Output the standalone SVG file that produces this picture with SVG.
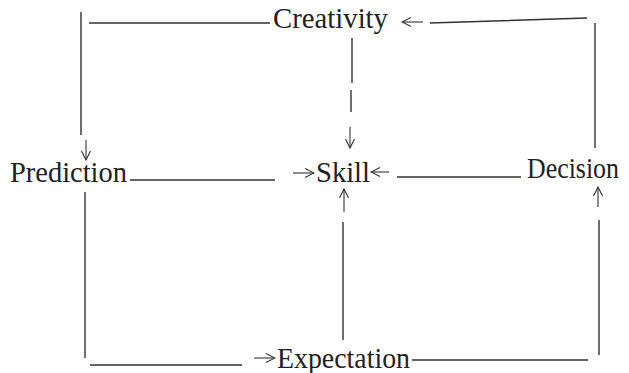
<svg xmlns="http://www.w3.org/2000/svg" width="629" height="373" viewBox="0 0 629 373">
<style>
.lbl{font-family:"Liberation Serif","Times New Roman",serif;font-size:29px;fill:#222}
.ln{fill:none;stroke:#333;stroke-width:1.4}
.ar{fill:none;stroke:#333;stroke-width:1.1}
</style>
<defs>
<marker id="ah" viewBox="0 0 12 12" refX="11" refY="6" markerWidth="12" markerHeight="12" markerUnits="userSpaceOnUse" orient="auto">
<path d="M2,1.5 L11,6 L2,10.5" fill="none" stroke="#333" stroke-width="1.1"/>
</marker>
</defs>
<rect width="629" height="373" fill="#fff"/>
<g id="connectors">
<g id="creativity-prediction">
<path class="ln" d="M270,23 H89 M81,12 V135"/>
<path class="ar" d="M86,140 V160" marker-end="url(#ah)"/>
</g>
<g id="decision-creativity">
<path class="ln" d="M595,148 V23 M587,18 L430,23"/>
<path class="ar" d="M423,22 H402" marker-end="url(#ah)"/>
</g>
<g id="creativity-skill">
<path class="ln" d="M352,38 V83 M351,90 V112"/>
<path class="ar" d="M350,127 V148" marker-end="url(#ah)"/>
</g>
<g id="prediction-skill">
<path class="ln" d="M130,180 H275"/>
<path class="ar" d="M293,173 H314" marker-end="url(#ah)"/>
</g>
<g id="decision-skill">
<path class="ln" d="M521,177 H397"/>
<path class="ar" d="M389,172 H371" marker-end="url(#ah)"/>
</g>
<g id="expectation-skill">
<path class="ln" d="M343,340 V222"/>
<path class="ar" d="M344,212 V189" marker-end="url(#ah)"/>
</g>
<g id="expectation-decision">
<path class="ln" d="M412,360 H588 M599,355 V220"/>
<path class="ar" d="M598,207 V187" marker-end="url(#ah)"/>
</g>
<g id="prediction-expectation">
<path class="ln" d="M85,192 V358 M90,365 H242"/>
<path class="ar" d="M254,358 H275" marker-end="url(#ah)"/>
</g>
</g>
<g id="creativity"><text class="lbl" x="273" y="28" textLength="115" lengthAdjust="spacingAndGlyphs">Creativity</text></g>
<g id="prediction"><text class="lbl" x="10" y="182" textLength="117" lengthAdjust="spacingAndGlyphs">Prediction</text></g>
<g id="skill"><text class="lbl" x="316" y="182" textLength="54" lengthAdjust="spacingAndGlyphs">Skill</text></g>
<g id="decision"><text class="lbl" x="527" y="178" textLength="92" lengthAdjust="spacingAndGlyphs">Decision</text></g>
<g id="expectation"><text class="lbl" x="277" y="368" textLength="133" lengthAdjust="spacingAndGlyphs">Expectation</text></g>
</svg>
